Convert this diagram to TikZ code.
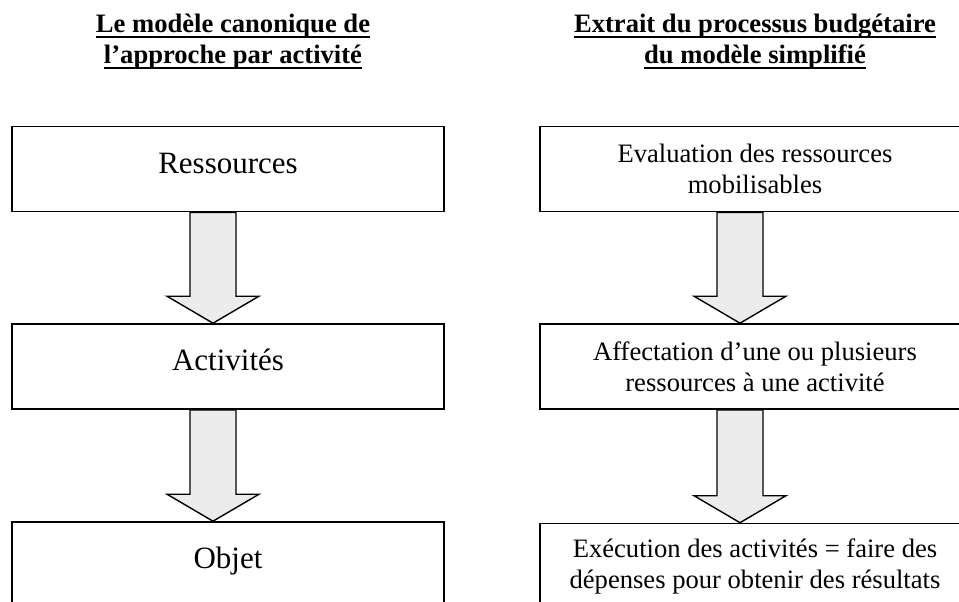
\documentclass[tikz,border=0pt]{standalone}
\usepackage{fontspec}
\setmainfont{Liberation Serif}
\usepackage{tikz}
\usetikzlibrary{calc, positioning}
\definecolor{fgris}{HTML}{ECECEC}
\newcommand{\titreul}[1]{\setbox0\hbox{#1}\rlap{\rule[-5pt]{\wd0}{2pt}}\box0}
\tikzset{
  titre/.style={align=center, font=\fontsize{26.6}{31}\selectfont\bfseries, inner sep=0pt},
  lbox/.style={draw, line width=1.6pt, minimum width=432pt, minimum height=85pt,
               font=\fontsize{31}{36}\selectfont, text height=22pt, text depth=14pt, inner sep=0pt},
  rbox/.style={draw, line width=1.6pt, minimum width=430pt, minimum height=85pt,
               align=center, font=\fontsize{26.6}{31}\selectfont, inner sep=0pt},
  fleche/.style={draw, line width=1.4pt, fill=fgris, line join=miter},
}
\newcommand{\flechebloc}[2]{%
  \draw[fleche] let \p1=($(#1.south)+(-15pt,0)$), \p2=($(#2.north)+(-15pt,0)$) in
    (\x1-23pt,\y1) -- (\x1-23pt,\y2+27pt) -- (\x1-46pt,\y2+27pt) -- (\x1,\y2)
    -- (\x1+46pt,\y2+27pt) -- (\x1+23pt,\y2+27pt) -- (\x1+23pt,\y1) -- cycle;}

\begin{document}
\begin{tikzpicture}[x=1pt, y=-1pt]
  \useasboundingbox (0,0) rectangle (959,602);
  \clip (0,0) rectangle (959,602);
  % titres
  \node[titre] (t1) at (233,42) {\titreul{Le modèle canonique de}\\\titreul{l’approche par activité}};
  \node[titre] (t2) at (755,42) {\titreul{Extrait du processus budgétaire}\\\titreul{du modèle simplifié}};

  % colonne gauche
  \node[lbox] (res) at (228,169) {Ressources};
  \node[lbox] (act) at (228,366.5) {Activités};
  \node[lbox] (obj) at (228,564.5) {Objet};

  % colonne droite
  \node[rbox] (eval) at (755,169) {Evaluation des ressources\\mobilisables};
  \node[rbox] (aff) at (755,366.5) {Affectation d’une ou plusieurs\\ressources à une activité};
  \node[rbox] (exe) at (755,566) {Exécution des activités = faire des\\dépenses pour obtenir des résultats};

  \flechebloc{res}{act}
  \flechebloc{act}{obj}
  \flechebloc{eval}{aff}
  \flechebloc{aff}{exe}
\end{tikzpicture}
\end{document}
